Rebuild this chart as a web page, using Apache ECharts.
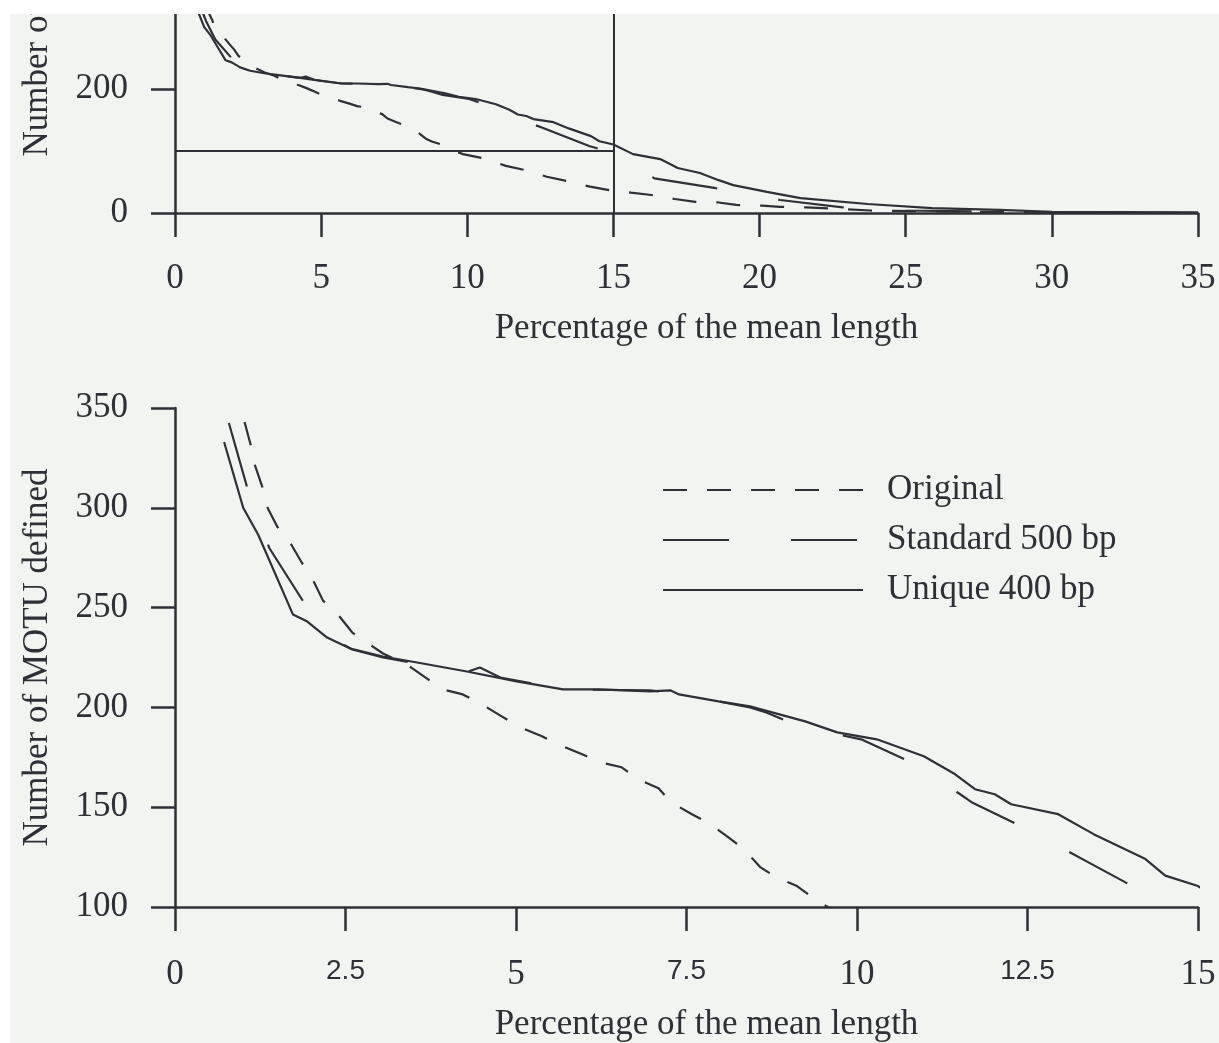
<!DOCTYPE html>
<html>
<head>
<meta charset="utf-8">
<script src="https://cdn.jsdelivr.net/npm/echarts@6/dist/echarts.min.js"></script>
<style>
  html, body { margin: 0; background: #fff; }
  #panel { position: absolute; left: 10px; top: 14px; width: 1209px; height: 1029px; background: #f2f4f1; overflow: hidden; }
  /* the chart is taller than the panel: its upper part is cut off, as in the source figure */
  #chart { position: absolute; left: 0; top: -300px; width: 1209px; height: 1329px; }
</style>
</head>
<body>
<div id="panel"><div id="chart"></div></div>
<script>
// series names
const seriesNames = ['Original', 'Standard 500 bp', 'Unique 400 bp']

// Original (short dashes)
const origX = [1.02, 1.11, 1.17, 1.28, 1.35, 1.5, 1.69, 1.86, 2.02, 2.17, 2.39, 2.6, 3.05, 3.4, 3.67, 3.93, 4.22, 4.5, 4.79, 5.06, 5.38, 5.65, 5.97, 6.23, 6.55, 6.79, 7.09, 7.27, 7.58, 7.83, 8.09, 8.34, 8.58, 8.81, 9.12, 9.34, 9.52, 9.85, 10.54, 11.32, 12.0, 12.72, 13.4, 14.2, 14.85, 15.6, 16.3, 17.1, 17.8, 18.6, 19.2, 20.1, 20.7, 21.6, 23.8, 25.4, 27, 30, 35]
const origY = [343, 331.5, 321.5, 310.5, 300.5, 290.5, 282.5, 272.5, 264, 253.5, 246.5, 237.5, 227, 221.5, 215, 209, 206.5, 201.5, 195.5, 190, 185.5, 181, 176.5, 172.5, 170, 164, 159.5, 152.5, 146.5, 142, 135.5, 129, 120, 115, 110.5, 105, 101, 95, 88.5, 76, 69, 58.5, 51.6, 42.5, 37, 32.8, 29, 22.6, 18, 17, 13, 11.8, 10, 9, 4, 3, 2, 1, 0]

// Standard 500 bp (long dashes)
const stdX = [0.79, 1.06, 1.38, 1.91, 2.23, 2.6, 3.05, 3.55, 4.3, 4.47, 4.77, 5.7, 6.96, 7.39, 7.97, 8.43, 8.67, 9.16, 10.06, 10.92, 11.68, 12.55, 13.36, 14.17, 14.9, 16.4, 18.5, 20.7, 22.85, 25, 28, 35]
const stdY = [342.5, 310, 280, 251.5, 236, 229, 225, 222, 218, 220, 215, 209, 208.5, 207, 203, 200, 197.5, 190.5, 184, 170.5, 152.5, 138, 123, 108, 98, 56, 40, 21, 9, 4, 2, 0]

// Unique 400 bp (solid)
const uniqX = [0.72, 1.0, 1.22, 1.73, 1.94, 2.23, 2.57, 3.05, 3.55, 4.28, 5.01, 5.69, 6.23, 6.96, 7.27, 7.39, 7.97, 8.43, 9.24, 9.71, 10.29, 10.98, 11.44, 11.73, 12.02, 12.26, 12.95, 13.47, 14.23, 14.52, 15.0, 15.67, 16.6, 17.2, 17.96, 18.6, 19.1, 20.25, 21.4, 23.7, 25.9, 28.2, 30, 35]
const uniqY = [333, 300, 286.5, 246.5, 243, 235, 229.5, 225.5, 222.5, 218, 213, 209, 209, 208, 208.5, 206.5, 203, 200.5, 193, 187.5, 184, 175.5, 166.5, 159, 156.5, 151.5, 146.5, 136.5, 124, 115.7, 110.5, 95, 87, 72.6, 64.5, 53, 45, 34, 24, 14.5, 8, 5, 2, 1]

// axis ticks
const topXTicks = { min: 0, max: 35, interval: 5 }
const topYTicks = { min: 0, max: 760, interval: 200 }
const botXTicks = { min: 0, max: 15, interval: 2.5 }
const botYTicks = { min: 100, max: 350, interval: 50 }

const ink = '#2d3135'
const serif = 'Liberation Serif'
const pairs = (xs, ys) => xs.map((x, i) => [x, ys[i]])
const dashes = [[24, 20], [66, 62], 'solid']
const dataSets = [pairs(origX, origY), pairs(stdX, stdY), pairs(uniqX, uniqY)]

const axisBase = {
  type: 'value',
  axisLine: { show: true, lineStyle: { color: ink, width: 2.5 } },
  axisTick: { show: true, inside: false, length: 24, lineStyle: { color: ink, width: 2.5 } },
  splitLine: { show: false },
  axisLabel: { color: ink, fontFamily: serif, fontSize: 35 },
  nameTextStyle: { color: ink, fontFamily: serif, fontSize: 35 }
}

const makeSeries = (grid) =>
  seriesNames.map((name, i) => ({
    name,
    type: 'line',
    xAxisIndex: grid,
    yAxisIndex: grid,
    data: dataSets[i],
    symbol: 'none',
    clip: true,
    lineStyle: { color: ink, width: 2.2, type: dashes[i] },
    itemStyle: { color: ink }
  }))

const topSeries = makeSeries(0)
topSeries[0].markLine = {
  silent: true,
  symbol: 'none',
  label: { show: false },
  lineStyle: { color: ink, width: 2, type: 'solid' },
  data: [
    [{ coord: [15, 0] }, { coord: [15, 760] }],
    [{ coord: [0, 100] }, { coord: [15, 100] }]
  ]
}

const chart = echarts.init(document.getElementById('chart'))
chart.setOption({
  animation: false,
  backgroundColor: 'transparent',
  grid: [
    { left: 165, right: 21, top: 28, height: 471 },
    { left: 165, right: 21, top: 694, height: 500 }
  ],
  legend: {
    orient: 'vertical',
    left: 647,
    top: 753,
    itemWidth: 200,
    itemHeight: 14,
    itemGap: 14,
    data: seriesNames,
    itemStyle: { color: 'transparent', borderWidth: 0, opacity: 0 },
    textStyle: { color: ink, fontFamily: serif, fontSize: 35, lineHeight: 36, padding: [0, 0, 0, 19] }
  },
  xAxis: [
    {
      ...axisBase,
      gridIndex: 0,
      ...topXTicks,
      name: 'Percentage of the mean length',
      nameLocation: 'middle',
      nameGap: 98,
      nameTextStyle: { ...axisBase.nameTextStyle, padding: [0, 0, 0, 40] },
      axisLabel: { ...axisBase.axisLabel, margin: 48 }
    },
    {
      ...axisBase,
      gridIndex: 1,
      ...botXTicks,
      name: 'Percentage of the mean length',
      nameLocation: 'middle',
      nameGap: 100,
      nameTextStyle: { ...axisBase.nameTextStyle, padding: [0, 0, 0, 40] },
      axisLabel: {
        ...axisBase.axisLabel,
        margin: 50,
        formatter: (v) => (Number.isInteger(v) ? '{a|' + v + '}' : '{b|' + v + '}'),
        rich: {
          a: { color: ink, fontFamily: serif, fontSize: 35 },
          b: { color: ink, fontFamily: 'Liberation Sans', fontSize: 28 }
        }
      }
    }
  ],
  yAxis: [
    {
      ...axisBase,
      gridIndex: 0,
      ...topYTicks,
      name: 'Number of MOTU defined',
      nameLocation: 'middle',
      nameGap: 120,
      nameTextStyle: { ...axisBase.nameTextStyle, padding: [0, 0, 0, 20] },
      axisLabel: { ...axisBase.axisLabel, margin: 47 }
    },
    {
      ...axisBase,
      gridIndex: 1,
      ...botYTicks,
      name: 'Number of MOTU defined',
      nameLocation: 'middle',
      nameGap: 120,
      axisLabel: { ...axisBase.axisLabel, margin: 47 }
    }
  ],
  series: [...topSeries, ...makeSeries(1)]
})
</script>
</body>
</html>
